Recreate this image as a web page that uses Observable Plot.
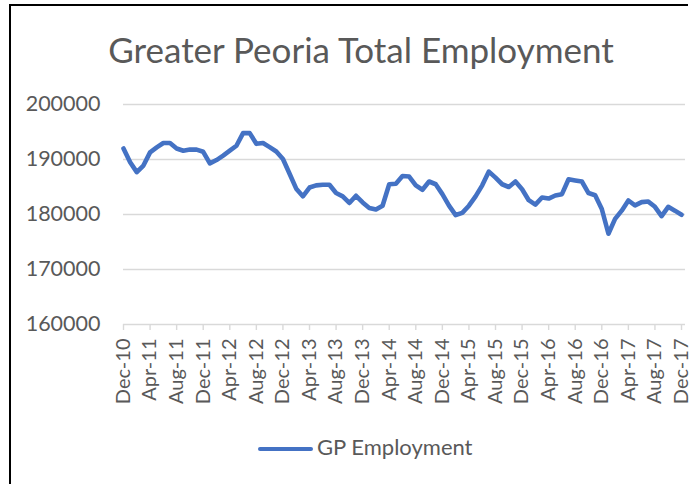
<!DOCTYPE html>
<html>
<head>
<meta charset="utf-8">
<script src="https://cdn.jsdelivr.net/npm/d3@7"></script>
<script src="https://cdn.jsdelivr.net/npm/@observablehq/plot@0.6"></script>
<style>
  html, body { margin: 0; padding: 0; background: #fff; }
  #wrap { position: relative; width: 698px; height: 484px; overflow: hidden; background: #fff; font-family: Lato, "Liberation Sans", sans-serif; color: #595959; }
  #frame { position: absolute; left: 9px; top: 4px; width: 679px; height: 490px; border-left: 2px solid #000; border-top: 2px solid #000; box-sizing: border-box; }
  #title { position: absolute; left: 0; top: 27.5px; width: 722px; text-align: center; font-size: 35px; line-height: 42px; white-space: nowrap; }
  #chart { position: absolute; left: 0; top: 0; }
  #legend-swatch { position: absolute; left: 258px; top: 446.8px; width: 55px; height: 4.5px; border-radius: 3px; background: #4472c4; }
  #legend-text { position: absolute; left: 317px; top: 434.3px; font-size: 22px; line-height: 26.4px; white-space: nowrap; }
</style>
</head>
<body>
<div id="wrap">
  <div id="frame"></div>
  <div id="title"></div>
  <div id="chart"></div>
  <div id="legend-swatch"></div>
  <div id="legend-text"></div>
</div>
<script>
const titleText = "Greater Peoria Total Employment";
const seriesName = "GP Employment";

// Monthly employment, Dec-10 .. Dec-17 (85 months)
const employment = [
  192000, 189500, 187700, 188900, 191300, 192200, 193000, 193000, 192000, 191600, 191800, 191800,
  191400, 189300, 189900, 190700, 191600, 192500, 194800, 194800, 192850, 193000, 192250, 191450,
  190100, 187400, 184700, 183300, 184900, 185300, 185400, 185400, 183900, 183300, 182100, 183400,
  182200, 181200, 180900, 181600, 185500, 185600, 187000, 186900, 185300, 184500, 186000, 185500,
  183700, 181600, 179900, 180300, 181600, 183300, 185300, 187800, 186700, 185500, 185000, 186000,
  184600, 182600, 181800, 183100, 182900, 183450, 183700, 186400, 186200, 186000, 183900, 183500,
  181000, 176500, 179200, 180700, 182550, 181650, 182250, 182350, 181400, 179700, 181400, 180700,
  179950
];

const xTickLabels = [
  "Dec-10", "Apr-11", "Aug-11", "Dec-11", "Apr-12", "Aug-12", "Dec-12", "Apr-13",
  "Aug-13", "Dec-13", "Apr-14", "Aug-14", "Dec-14", "Apr-15", "Aug-15", "Dec-15",
  "Apr-16", "Aug-16", "Dec-16", "Apr-17", "Aug-17", "Dec-17"
];
const xTickStep = 4; // months between labels
const yTicks = [160000, 170000, 180000, 190000, 200000];

const xTickIdx = xTickLabels.map((_, i) => i * xTickStep);
const data = employment.map((v, i) => ({ i, v }));

document.getElementById("title").textContent = titleText;
document.getElementById("legend-text").textContent = seriesName;

const chart = Plot.plot({
  width: 698,
  height: 420,
  marginLeft: 123,
  marginRight: 13,
  marginTop: 104,
  marginBottom: 96,
  style: { fontFamily: "Lato, 'Liberation Sans', sans-serif", color: "#595959", background: "transparent", overflow: "visible" },
  x: { type: "linear", domain: [0, employment.length - 1 + 0.6], label: null },
  y: { domain: [160000, 200000], label: null },
  marks: [
    Plot.gridY(yTicks, { stroke: "#d9d9d9", strokeOpacity: 1, strokeWidth: 1.4 }),
    Plot.axisY(yTicks, { label: null, tickSize: 0, tickPadding: 23, fontSize: 21.5, fill: "#595959", tickFormat: d => String(d) }),
    Plot.axisX(xTickIdx, {
      label: null,
      tickSize: 6, tickPadding: 8, tickRotate: -90, fontSize: 20,
      stroke: "#d9d9d9", strokeWidth: 1.4, fill: "#595959",
      tickFormat: d => xTickLabels[d / xTickStep]
    }),
    Plot.lineY(data, { x: "i", y: "v", stroke: "#4472c4", strokeWidth: 4.6, strokeLinejoin: "round", strokeLinecap: "round" })
  ]
});
document.getElementById("chart").appendChild(chart);
</script>
</body>
</html>
